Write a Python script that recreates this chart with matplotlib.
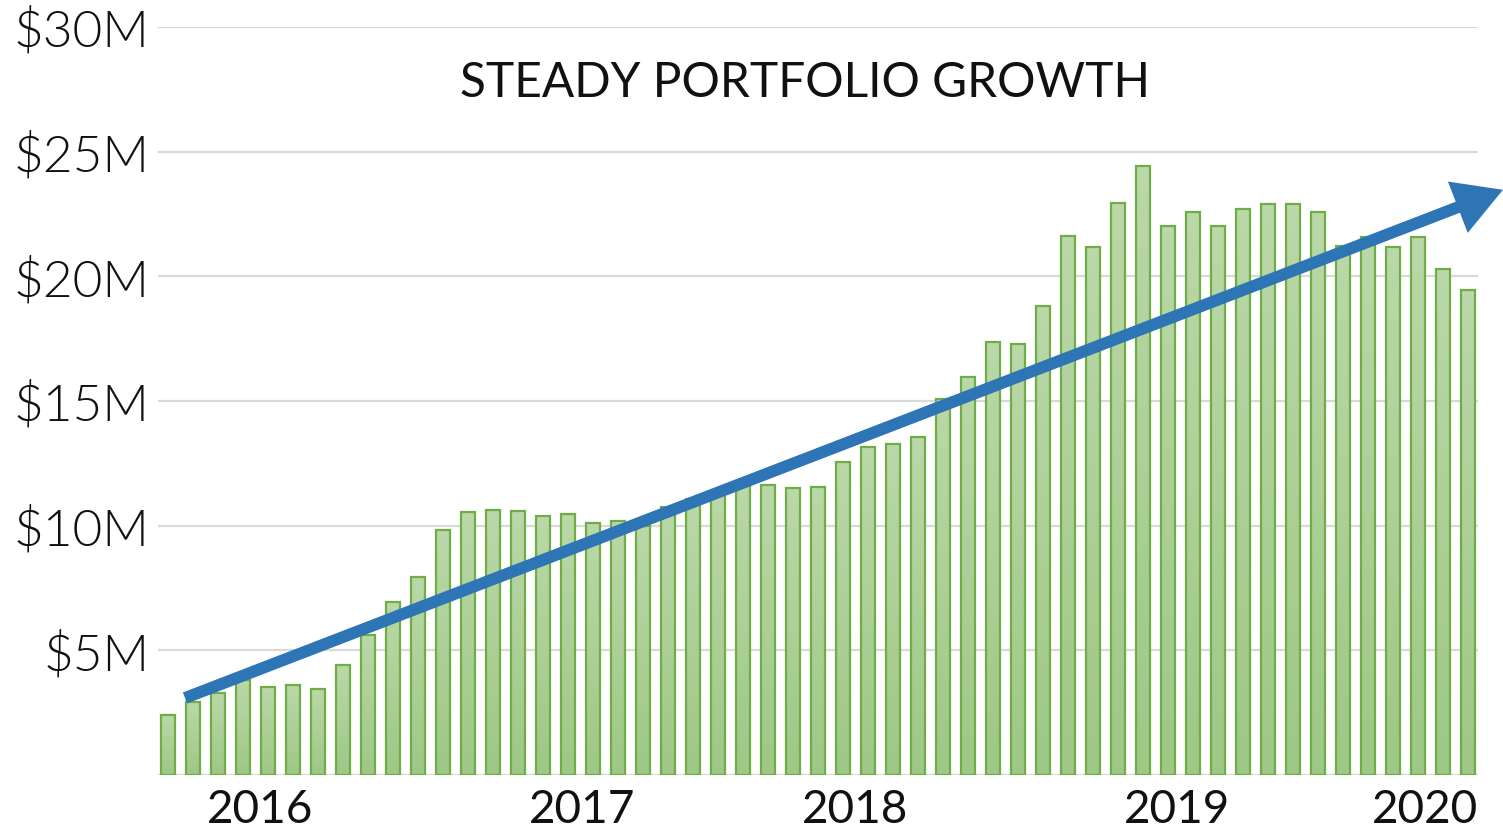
import matplotlib
matplotlib.use('Agg')
import matplotlib.pyplot as plt
import numpy as np
from matplotlib.colors import LinearSegmentedColormap
from matplotlib.patches import FancyArrowPatch

# monthly portfolio value, $M (Oct 2015 .. Feb 2020)
values = [2.42, 2.94, 3.28, 3.80, 3.54, 3.61, 3.45, 4.41, 5.60, 6.93,
          7.95, 9.83, 10.55, 10.63, 10.59, 10.39, 10.47, 10.11, 10.18, 10.00,
          10.76, 11.08, 11.30, 11.70, 11.62, 11.50, 11.57, 12.57, 13.14, 13.26,
          13.55, 15.08, 15.96, 17.37, 17.28, 18.80, 21.63, 21.18, 22.94, 24.43,
          22.00, 22.57, 22.03, 22.71, 22.92, 22.90, 22.59, 21.20, 21.56, 21.16,
          21.56, 20.30, 19.45]
year_labels = ['2016', '2017', '2018', '2019', '2020']
year_pos = [3.68, 16.56, 27.48, 40.36, 50.28]
y_ticks = [0, 5, 10, 15, 20, 25, 30]
y_labels = ['', '\\$5M', '\\$10M', '\\$15M', '\\$20M', '\\$25M', '\\$30M']

# trend arrow ends (bar index, $M)
trend_start = (0.68, 3.09)
trend_end = (53.4, 23.47)

plt.rcParams['font.family'] = ['Lato', 'DejaVu Sans']

fig = plt.figure(figsize=(15.03, 8.32), dpi=100)
ax = fig.add_axes([158 / 1503, 57 / 832, 1320 / 1503, 748 / 832])

x = np.arange(len(values))
bar_w = 0.54
cmap = LinearSegmentedColormap.from_list('g', ['#9ec886', '#bad8a8'])
grad = np.linspace(0, 1, 100).reshape(-1, 1)

bars = ax.bar(x, values, width=bar_w, facecolor='none', edgecolor='#70ad47',
              linewidth=1.6, zorder=3)
for b in bars:
    x0, w, h = b.get_x(), b.get_width(), b.get_height()
    im = ax.imshow(grad, cmap=cmap, origin='lower', aspect='auto',
                   extent=[x0, x0 + w, 0, h], zorder=2)
    im.set_clip_path(b)

ax.set_xlim(-0.4, len(values) - 0.6)
ax.set_ylim(0, 30)

ax.set_yticks(y_ticks)
ax.set_yticklabels(y_labels, fontsize=37, fontweight=350, color='#111111')
ax.set_xticks(year_pos)
ax.set_xticklabels(year_labels, fontsize=33, color='#111111')
ax.tick_params(axis='both', length=0)
ax.tick_params(axis='y', pad=6)
ax.tick_params(axis='x', pad=10)

ax.grid(axis='y', color='#d9d9d9', linewidth=1.6, zorder=0)
ax.set_axisbelow(True)
for s in ax.spines.values():
    s.set_visible(False)

arrow = FancyArrowPatch(trend_start, trend_end, arrowstyle='-|>,head_length=22,head_width=12.5',
                        mutation_scale=1, linewidth=8.5, color='#2e75b6',
                        shrinkA=0, shrinkB=0, capstyle='butt', joinstyle='miter',
                        zorder=5, clip_on=False)
ax.add_patch(arrow)

fig.text(805 / 1503, 1 - 83 / 832, 'STEADY PORTFOLIO GROWTH', fontsize=34.5,
         ha='center', va='center', color='#111111')

fig.savefig('out.png', dpi=100)
